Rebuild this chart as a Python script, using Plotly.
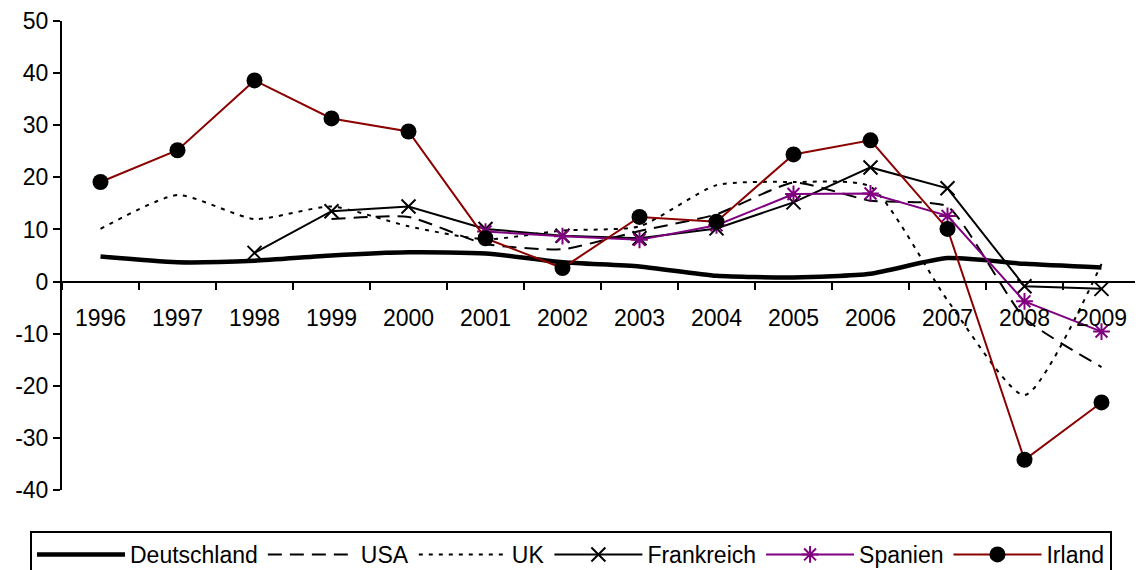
import plotly.graph_objects as go

years = ["1996", "1997", "1998", "1999", "2000", "2001", "2002", "2003",
         "2004", "2005", "2006", "2007", "2008", "2009"]

deutschland = [4.8, 3.7, 4.0, 5.0, 5.6, 5.4, 3.7, 2.9, 1.1, 0.8, 1.5, 4.5, 3.4, 2.7]
usa = [None, None, None, 12.0, 12.4, 7.2, 6.2, 9.7, 12.9, 19.0, 15.5, 14.4, -7.0, -16.4]
uk = [10.1, 16.6, 12.0, 14.4, 10.6, 8.1, 9.8, 10.6, 18.5, 19.1, 18.2, -3.6, -21.8, 3.4]
frankreich = [None, None, 5.5, 13.5, 14.4, 10.1, 8.8, 8.3, 10.2, 15.2, 21.9, 17.9, -0.9, -1.4]
spanien = [None, None, None, None, None, 9.6, 8.7, 8.0, 10.8, 16.8, 16.9, 12.6, -3.8, -9.6]
irland = [19.1, 25.2, 38.6, 31.3, 28.8, 8.3, 2.6, 12.4, 11.5, 24.4, 27.1, 10.1, -34.2, -23.2]

y_tickvals = [-40, -30, -20, -10, 0, 10, 20, 30, 40, 50]
y_ticktext = ["-40", "-30", "-20", "-10", "0", "10", "20", "30", "40", "50"]

FONT = "Arial, Liberation Sans, sans-serif"

fig = go.Figure()
fig.add_trace(go.Scatter(x=years, y=deutschland, name="Deutschland", mode="lines",
                         line=dict(color="black", width=4.5, shape="spline", smoothing=0.6)))
fig.add_trace(go.Scatter(x=years, y=usa, name="USA", mode="lines",
                         line=dict(color="black", width=2, dash="14px,8px", shape="spline", smoothing=0.5)))
fig.add_trace(go.Scatter(x=years, y=uk, name="UK", mode="lines",
                         line=dict(color="black", width=2, dash="4px,6px", shape="spline", smoothing=0.6)))
fig.add_trace(go.Scatter(x=years, y=frankreich, name="Frankreich", mode="lines+markers",
                         line=dict(color="black", width=2),
                         marker=dict(symbol="x-thin-open", size=14, color="black",
                                     line=dict(color="black", width=2))))
fig.add_trace(go.Scatter(x=years, y=spanien, name="Spanien", mode="lines+markers",
                         line=dict(color="#800080", width=2),
                         marker=dict(symbol="asterisk-open", size=14, color="#800080",
                                     line=dict(color="#800080", width=2))))
fig.add_trace(go.Scatter(x=years, y=irland, name="Irland", mode="lines+markers",
                         line=dict(color="#8B0000", width=2),
                         marker=dict(symbol="circle", size=16, color="black")))

fig.update_layout(
    width=1135, height=562,
    margin=dict(l=54, r=3, t=13, b=80, autoexpand=False),
    paper_bgcolor="white", plot_bgcolor="white",
    font=dict(family=FONT, size=23, color="black"),
    showlegend=True,
    legend=dict(orientation="h", x=-0.0297, xanchor="left", y=-0.0874, yanchor="top",
                bordercolor="black", borderwidth=2, font=dict(size=23),
                itemwidth=88, traceorder="normal"),
    xaxis=dict(type="category", categoryorder="array", categoryarray=years,
               range=[-0.5, 13.5], anchor="free", position=40 / 90,
               showline=True, linecolor="black", linewidth=2,
               ticks="outside", ticklen=7, tickwidth=2, tickcolor="black",
               tickson="boundaries", showgrid=False, zeroline=False,
               ticklabelstandoff=16, tickfont=dict(size=23)),
    yaxis=dict(range=[-40, 50], tickvals=y_tickvals, ticktext=y_ticktext,
               showline=True, linecolor="black", linewidth=2,
               ticks="outside", ticklen=7, tickwidth=2, tickcolor="black",
               showgrid=False, zeroline=False, tickfont=dict(size=23)),
)

fig.write_html("out.html")
